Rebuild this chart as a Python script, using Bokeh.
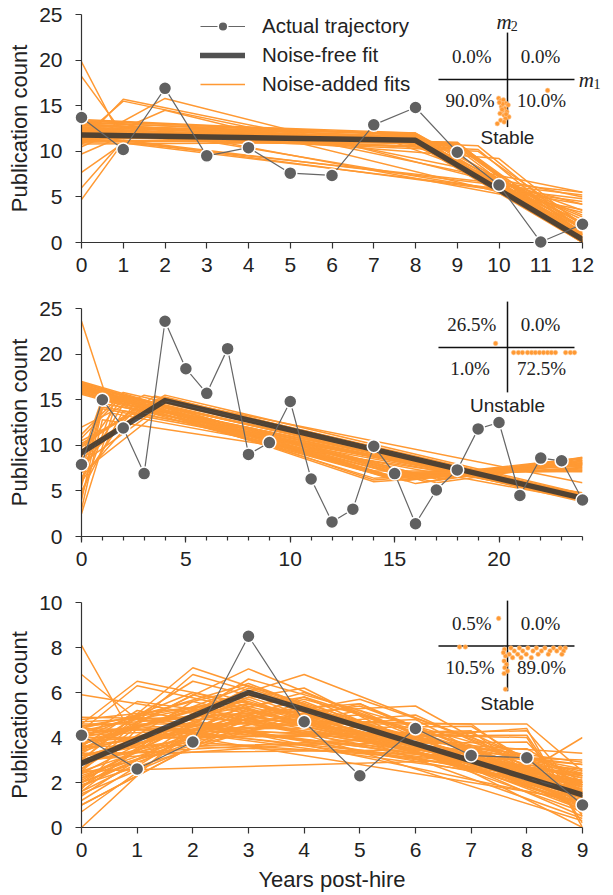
from bokeh.plotting import figure
from bokeh.models import Range1d, FixedTicker, Legend, LegendItem
from bokeh.layouts import column
from bokeh.core.properties import value
from bokeh.embed import file_html
from bokeh.resources import INLINE

SANS = "Liberation Sans"
SERIF = "Liberation Serif"
ORANGE = "#ff9933"
GRAY = "#666666"
DARK = "#333333"

# ---------------- data ----------------
# Panel 1
P1_YEARS = list(range(13))
P1_ACTUAL = [13.7, 10.2, 16.9, 9.5, 10.4, 7.6, 7.35, 12.9, 14.8, 9.9, 6.3, 0.05, 2.0]
P1_FIT_X = [0, 8, 12]
P1_FIT_Y = [11.8, 11.2, 0.35]
P1_NOISY_X = [
    [0, 8, 12], [0, 8, 12], [0, 8, 12], [0, 8, 12], [0, 8, 12], [0, 8, 12],
    [0, 9, 12], [0, 8, 12], [0, 8, 12], [0, 8, 12], [0, 9, 12], [0, 8.5, 12],
    [0, 9, 12], [0, 8, 12], [0, 7.5, 12], [0, 8, 12], [0, 9, 12], [0, 8, 12],
    [0, 8, 12], [0, 9.5, 12], [0, 10, 12], [0, 9, 12],
    [0, 8, 12], [0, 8, 12], [0, 8, 12], [0, 8, 12], [0, 8, 12], [0, 8, 12],
    [0, 8, 12], [0, 8, 12], [0, 8, 12], [0, 8, 12],
    [0, 9, 12], [0, 9, 12], [0, 9, 12], [0, 9.5, 12], [0, 9.5, 12], [0, 7, 12],
    [0, 0.8, 12], [0, 0.8, 12], [0, 1, 12], [0, 1, 12], [0, 1, 12], [0, 0.8, 12],
    [0, 1, 12], [0, 1, 12], [0, 2, 12], [0, 2, 12],
]
P1_NOISY_Y = [
    [13.5, 11.8, 0.3], [13.2, 11.5, 0.8], [12.8, 11.9, 0.0], [12.5, 11.2, 1.2], [12.2, 11.6, 0.5], [12.0, 11.0, 1.8],
    [11.8, 10.3, 0.0], [11.5, 11.4, 2.2], [11.2, 10.9, 0.9], [11.0, 11.3, 0.2], [12.9, 10.5, 0.6], [13.0, 11.0, 1.5],
    [12.3, 10.8, 0.0], [11.7, 11.8, 0.0], [12.6, 11.5, 2.8], [11.3, 10.6, 3.0], [12.1, 10.9, 1.0], [13.3, 12.0, 2.0],
    [10.8, 11.0, 0.4], [12.4, 10.6, 1.3], [12.7, 9.2, 1.8], [11.9, 11.0, 0.2],
    [13.4, 11.7, 1.0], [12.4, 11.3, 0.0], [11.6, 11.1, 1.5], [12.9, 11.4, 0.7], [11.4, 11.6, 0.9], [13.1, 11.9, 0.1],
    [12.0, 11.3, 2.5], [11.9, 10.8, 0.0], [12.6, 12.0, 1.2], [11.1, 11.2, 1.8],
    [12.5, 10.6, 0.5], [11.6, 10.4, 1.6], [13.0, 10.9, 0.2], [12.2, 10.2, 0.8], [11.8, 10.0, 2.0], [12.8, 11.8, 3.5],
    [19.8, 12.8, 4.2], [18.2, 13.2, 3.6], [4.7, 11.0, 5.5], [6.0, 11.2, 5.2], [7.7, 10.9, 4.8], [9.7, 11.3, 4.5],
    [11.0, 15.7, 5.5], [11.5, 15.5, 5.0], [10.8, 15.8, 4.2], [10.5, 14.5, 3.3],
]
P1_PCT = ["0.0%", "0.0%", "90.0%", "10.0%"]   # top-left, top-right, bottom-left, bottom-right
P1_CLASS = "Stable"
P1_M1 = [-0.26, -0.2, -0.12, -0.05, 0.02, -0.18, -0.08, -0.15, -0.02, -0.22, -0.1, 0.04, -0.14, -0.06, -0.2, -0.1, -0.3,
         -0.16, -0.04, -0.24, 1.18]
P1_M2 = [-0.55, -0.62, -0.6, -0.7, -0.75, -0.8, -0.85, -0.92, -0.95, -1.0, -1.05, -1.1, -0.72, -1.15, -1.2, -1.25, -1.3,
         -0.88, -1.02, -0.68, -0.32]

# Panel 2
P2_YEARS = list(range(25))
P2_ACTUAL = [7.9, 15.0, 11.9, 6.9, 23.6, 18.4, 15.7, 20.6, 9.0, 10.3, 14.8, 6.3, 1.6, 3.0,
             9.9, 6.9, 1.4, 5.1, 7.3, 11.8, 12.5, 4.5, 8.6, 8.3, 4.0]
P2_FIT_X = [0, 4, 24]
P2_FIT_Y = [9.2, 14.9, 4.2]
P2_NOISY_X = [
    [0, 4, 24], [0, 4, 24], [0, 4, 24], [0, 3, 24], [0, 2, 24], [0, 1, 24], [0, 1.5, 24],
    [0, 2, 24], [0, 2, 24], [0, 4, 24], [0, 3, 24], [0, 1, 24], [0, 1, 24], [0, 1.2, 24],
    [0, 3, 24], [0, 2.5, 24], [0, 3.5, 24],
    [0, 4, 24], [0, 3, 24], [0, 2, 24], [0, 1, 24], [0, 1, 24], [0, 2, 24], [0, 1.5, 24],
    [0, 4, 24], [0, 3.5, 24], [0, 1, 24],
    [0, 16, 24], [0, 15, 24], [0, 14, 24], [0, 16.5, 24], [0, 14.5, 24], [0, 17, 24],
    [0, 15.5, 24], [0, 16, 24], [0, 13.5, 24], [0, 15, 24], [0, 14, 24], [0, 16, 24],
    [0, 15.5, 24], [0, 14.5, 24],
    [0, 15, 24], [0, 16, 24], [0, 14.5, 24], [0, 15.5, 24], [0, 16.5, 24], [0, 15, 24],
    [0, 14, 24], [0, 17, 24],
]
P2_NOISY_Y = [
    [9.2, 15.0, 4.2], [8.0, 14.6, 4.5], [10.5, 15.3, 3.9], [6.5, 14.2, 4.6], [5.0, 13.8, 4.4], [3.0, 12.8, 4.8], [2.5, 13.5, 4.0],
    [11.2, 15.8, 4.2], [10.8, 15.5, 3.8], [7.0, 14.2, 4.7], [9.8, 14.8, 4.1], [4.0, 14.0, 4.3], [8.6, 15.2, 4.5], [23.6, 15.2, 4.3],
    [12.0, 15.5, 5.9], [6.0, 14.5, 4.0], [10.0, 15.4, 4.6],
    [9.5, 15.2, 4.4], [8.0, 14.8, 4.0], [7.0, 14.5, 4.3], [5.5, 14.2, 4.6], [7.0, 15.0, 4.1], [9.0, 15.3, 4.5], [4.5, 14.4, 4.2],
    [10.2, 15.5, 4.7], [8.5, 15.0, 3.9], [6.0, 14.6, 4.4],
    [16.8, 6.6, 8.6], [16.5, 6.2, 8.0], [16.2, 6.4, 7.5], [17.0, 6.0, 8.7], [15.8, 6.8, 7.2], [16.6, 6.3, 8.3],
    [16.0, 7.0, 7.8], [16.9, 5.8, 8.4], [15.6, 7.2, 7.1], [16.3, 6.5, 8.2], [16.7, 6.0, 7.6], [16.1, 6.9, 8.0],
    [16.4, 6.1, 8.5], [15.9, 6.6, 7.4],
    [16.6, 6.4, 8.1], [16.2, 6.3, 7.9], [16.5, 6.7, 7.7], [16.8, 6.2, 8.6], [16.0, 6.5, 8.3], [15.7, 6.9, 7.3],
    [16.9, 6.2, 7.9], [16.3, 5.9, 8.1],
]
P2_PCT = ["26.5%", "0.0%", "1.0%", "72.5%"]
P2_CLASS = "Unstable"
P2_M1 = [-0.35, 0.18, 0.32, 0.44, 0.59, 0.71, 0.82, 0.94, 1.06, 1.18, 1.29, 1.41, 1.71, 1.85, 1.97]
P2_M2 = [0.12, -0.15, -0.15, -0.15, -0.15, -0.15, -0.15, -0.15, -0.15, -0.15, -0.15, -0.15, -0.15, -0.15, -0.15]

# Panel 3
P3_YEARS = list(range(10))
P3_ACTUAL = [4.1, 2.6, 3.8, 8.5, 4.7, 2.3, 4.4, 3.2, 3.1, 1.0]
P3_FIT_X = [0, 3, 9]
P3_FIT_Y = [2.85, 6.0, 1.45]
P3_NOISY_X = [
    [0, 3, 9], [0, 3, 9], [0, 3, 9], [0, 3, 9], [0, 3, 9], [0, 3, 9], [0, 2.5, 9], [0, 2, 9],
    [0, 2, 9], [0, 3, 9], [0, 2, 9], [0, 4, 9], [0, 4, 9], [0, 4, 9], [0, 3, 9], [0, 2, 9],
    [0, 8, 9], [0, 8, 9], [0, 8, 9], [0, 8, 9], [0, 7, 9], [0, 7, 9],
    [0, 1, 9], [0, 1, 9], [0, 1, 9], [0, 2, 9], [0, 2, 9], [0, 2, 9], [0, 3, 9], [0, 3, 9],
    [0, 0.8, 9], [0, 1, 9], [0, 1.5, 9], [0, 8.4, 9], [0, 5, 9], [0, 5, 9], [0, 6, 9], [0, 4, 9],
    [0, 2, 9], [0, 2, 9], [0, 3, 9], [0, 3, 9], [0, 4, 9], [0, 2.5, 9], [0, 3.5, 9], [0, 8, 9],
    [0, 5, 9], [0, 1.5, 9],
    [0, 3, 9], [0, 3, 9], [0, 3, 9], [0, 3, 9], [0, 3, 9], [0, 3, 9],
    [0, 2, 9], [0, 2, 9], [0, 2, 9], [0, 2, 9], [0, 2, 9],
    [0, 4, 9], [0, 4, 9], [0, 4, 9], [0, 4, 9], [0, 4, 9],
    [0, 5, 9], [0, 5, 9], [0, 5, 9],
    [0, 1, 9], [0, 1, 9], [0, 1, 9], [0, 1, 9],
    [0, 6, 9], [0, 6, 9], [0, 7, 9], [0, 7, 9], [0, 8, 9], [0, 8, 9], [0, 2.5, 9],
]
P3_NOISY_Y = [
    [2.8, 6.0, 1.4], [2.2, 5.8, 1.0], [3.5, 6.3, 1.6], [1.8, 5.5, 1.8], [3.0, 5.2, 2.2], [4.2, 6.4, 0.8], [1.2, 5.0, 1.5], [0.0, 4.6, 1.9],
    [0.7, 4.2, 2.4], [4.8, 5.6, 1.2], [3.8, 5.2, 2.0], [2.5, 5.8, 0.5], [4.5, 6.2, 0.0], [3.2, 5.4, 1.0], [1.5, 4.6, 2.8], [4.0, 6.0, 1.7],
    [4.0, 4.1, 0.5], [3.6, 3.8, 1.2], [4.4, 4.0, 0.2], [3.3, 3.5, 2.0], [4.9, 4.6, 1.0], [3.9, 4.3, 0.6],
    [4.6, 6.5, 2.5], [4.3, 6.3, 2.0], [3.9, 5.6, 2.9], [3.0, 7.1, 1.3], [2.6, 6.8, 1.8], [3.4, 6.5, 2.2], [3.5, 7.05, 1.0], [2.0, 6.6, 2.4],
    [8.1, 4.6, 2.8], [6.8, 4.8, 2.4], [5.9, 5.3, 1.9], [2.5, 3.1, 4.0], [3.5, 5.7, 2.3], [2.4, 5.5, 1.0], [4.7, 5.4, 1.3], [3.7, 6.8, 2.0],
    [1.0, 3.6, 3.0], [2.0, 3.8, 2.6], [3.2, 4.3, 3.3], [1.0, 4.9, 0.3], [2.9, 5.1, 0.7], [4.4, 5.9, 1.1], [2.3, 5.3, 1.6], [3.0, 4.4, 0.0],
    [4.2, 5.0, 1.8], [1.6, 4.4, 2.1],
    [2.0, 5.0, 2.0], [3.7, 5.9, 1.9], [2.4, 6.2, 1.2], [1.6, 5.3, 1.3], [4.0, 5.5, 2.6], [3.1, 5.7, 0.4],
    [2.6, 5.6, 1.7], [3.3, 5.9, 1.4], [1.8, 5.0, 2.3], [4.3, 5.3, 2.1], [2.1, 4.7, 1.1],
    [3.4, 6.0, 1.5], [2.2, 5.6, 0.9], [4.1, 5.8, 1.9], [1.9, 5.1, 1.6], [3.0, 5.7, 2.3],
    [3.6, 5.4, 1.7], [2.9, 5.2, 0.8], [4.5, 5.5, 1.4],
    [3.0, 4.9, 2.3], [2.5, 4.5, 1.9], [1.7, 4.4, 1.2], [3.6, 5.2, 1.6],
    [3.8, 5.0, 1.6], [4.1, 4.8, 0.9], [4.3, 4.5, 1.5], [3.2, 4.2, 1.9], [3.9, 4.3, 1.4], [4.6, 4.6, 2.5], [1.4, 5.4, 2.0],
]
P3_PCT = ["0.5%", "0.0%", "10.5%", "89.0%"]
P3_CLASS = "Stable"
P3_M1 = [-0.26, -1.41, -1.24,
         0.1, 0.35, 0.6, 0.85, 1.1, 1.35, 1.55, 1.7,
         0.2, 0.45, 0.75, 1.0, 1.25, 1.45, 1.65,
         0.05, 0.3, 0.55, 0.9, 1.2, 1.6,
         0.15, 0.4, 0.7,
         -0.09, -0.06, -0.1, -0.03, -0.08, -0.1, 0.0, -0.12, -0.06]
P3_M2 = [0.82, -0.03, -0.03,
         -0.06, -0.06, -0.06, -0.06, -0.06, -0.06, -0.06, -0.06,
         -0.15, -0.15, -0.15, -0.15, -0.15, -0.15, -0.15,
         -0.25, -0.25, -0.25, -0.25, -0.25, -0.25,
         -0.35, -0.35, -0.35,
         -0.1, -0.3, -0.45, -0.55, -0.65, -0.82, -0.75, -0.2, -1.29]

LEGEND_LABELS = ["Actual trajectory", "Noise-free fit", "Noise-added fits"]
Y_LABEL = "Publication count"
X_LABEL = "Years post-hire"

# ---------------- layout constants ----------------
FIG_W = 607
B_LEFT, B_RIGHT, B_TOP = 81, 25, 14
FRAME_W = FIG_W - B_LEFT - B_RIGHT
FRAME_H = 228
UNIT = 34.0  # inset pixels per unit


def make_panel(years, actual, fit_x, fit_y, nx, ny, pct, cls, m1, m2,
               xmax, ymax, xticks, xminor, yticks, inset_cy, vhalf, fig_h,
               legend=False, mlabels=False, xlabel=None):
    p = figure(width=FIG_W, height=fig_h, output_backend="svg", toolbar_location=None,
               x_range=Range1d(0, xmax), y_range=Range1d(0, ymax),
               min_border_left=B_LEFT, min_border_right=B_RIGHT,
               min_border_top=B_TOP, min_border_bottom=fig_h - B_TOP - FRAME_H)
    p.outline_line_color = None
    p.grid.visible = False
    p.background_fill_color = "white"
    p.border_fill_color = "white"

    cx = 426.0
    p.extra_x_ranges = {"m1": Range1d(-cx / UNIT, (FRAME_W - cx) / UNIT)}
    p.extra_y_ranges = {"m2": Range1d(-(FRAME_H - inset_cy) / UNIT, inset_cy / UNIT)}

    r_noisy = p.multi_line(nx, ny, line_color=ORANGE, line_width=1.5, line_alpha=1.0)
    r_fit = p.line(fit_x, fit_y, line_color=DARK, line_alpha=0.85, line_width=5.5, line_cap="round",
                   line_join="round")
    r_act_l = p.line(years, actual, line_color=GRAY, line_width=1.2, level="overlay")
    r_act_s = p.scatter(years, actual, size=13, fill_color="#606060", line_color="white",
                        line_width=1.5, level="overlay")

    # inset
    kw = dict(x_range_name="m1", y_range_name="m2", level="overlay")
    p.segment(x0=[-2.03, 0], y0=[0, vhalf[0]], x1=[1.97, 0], y1=[0, vhalf[1]],
              line_color="#111111", line_width=1.5, **kw)
    p.scatter(m1, m2, size=4.6, fill_color=ORANGE, line_color="#ffc890", line_width=0.6, **kw)
    p.text(x=[-1.05, 0.97, -1.1, 1.0], y=[0.68, 0.68, -0.63, -0.63], text=pct,
           text_font=value(SERIF), text_font_size="19px", text_color="#222222",
           text_align="center", text_baseline="middle", **kw)
    p.text(x=[0], y=[-1.72], text=[cls], text_font=value(SANS), text_font_size="19px",
           text_color="#222222", text_align="center", text_baseline="middle", **kw)
    if mlabels:
        p.text(x=[-0.1, 2.32], y=[1.68, 0.0], text=["m", "m"], text_font=value(SERIF),
               text_font_style="italic", text_font_size="21px", text_color="#222222",
               text_align="center", text_baseline="middle", **kw)
        p.text(x=[0.2, 2.63], y=[1.58, -0.12], text=["2", "1"], text_font=value(SERIF),
               text_font_size="14px", text_color="#222222",
               text_align="center", text_baseline="middle", **kw)

    # axes
    for ax in (p.xaxis[0], p.yaxis[0]):
        ax.axis_line_color = "#333333"
        ax.axis_line_width = 1.2
        ax.major_tick_line_color = "#333333"
        ax.major_tick_line_width = 1.2
        ax.major_tick_in = 0
        ax.major_tick_out = 6
        ax.minor_tick_in = 0
        ax.minor_tick_out = 4
        ax.minor_tick_line_color = None
        ax.major_label_text_font = SANS
        ax.major_label_text_font_size = "21px"
        ax.major_label_text_color = "#222222"
        ax.axis_label_text_font = SANS
        ax.axis_label_text_font_size = "22px"
        ax.axis_label_text_font_style = "normal"
        ax.axis_label_text_color = "#222222"
    p.xaxis.ticker = FixedTicker(ticks=xticks, minor_ticks=xminor)
    if xminor:
        p.xaxis.minor_tick_line_color = "#333333"
        p.xaxis.minor_tick_line_width = 1.2
    p.yaxis.ticker = FixedTicker(ticks=yticks)
    p.yaxis.axis_label = Y_LABEL
    p.yaxis.major_label_standoff = 13
    p.yaxis.axis_label_standoff = 4
    p.xaxis.major_label_standoff = 9
    if xlabel:
        p.xaxis.axis_label = xlabel
        p.xaxis.axis_label_standoff = 7

    if legend:
        lg = Legend(items=[LegendItem(label=LEGEND_LABELS[0], renderers=[r_act_l, r_act_s]),
                           LegendItem(label=LEGEND_LABELS[1], renderers=[r_fit]),
                           LegendItem(label=LEGEND_LABELS[2], renderers=[r_noisy])],
                    location=(119, 146), padding=0, margin=0, spacing=5,
                    glyph_width=45, glyph_height=24, label_height=24, label_standoff=17,
                    label_text_font=SANS, label_text_font_size="20.5px", label_text_color="#222222",
                    background_fill_alpha=0, border_line_color=None)
        p.add_layout(lg, "center")
    return p


p1 = make_panel(P1_YEARS, P1_ACTUAL, P1_FIT_X, P1_FIT_Y, P1_NOISY_X, P1_NOISY_Y, P1_PCT, P1_CLASS,
                P1_M1, P1_M2, 12, 25, list(range(13)), [], [0, 5, 10, 15, 20, 25], 65, (-1.4, 1.38), 294,
                legend=True, mlabels=True)
p2 = make_panel(P2_YEARS, P2_ACTUAL, P2_FIT_X, P2_FIT_Y, P2_NOISY_X, P2_NOISY_Y, P2_PCT, P2_CLASS,
                P2_M1, P2_M2, 24, 25, [0, 5, 10, 15, 20], list(range(25)), [0, 5, 10, 15, 20, 25], 39,
                (-1.32, 1.35), 294)
p3 = make_panel(P3_YEARS, P3_ACTUAL, P3_FIT_X, P3_FIT_Y, P3_NOISY_X, P3_NOISY_Y, P3_PCT, P3_CLASS,
                P3_M1, P3_M2, 9, 10, list(range(10)), [], [0, 2, 4, 6, 8, 10], 44, (-1.35, 1.35), 306,
                xlabel=X_LABEL)

layout = column(p1, p2, p3, spacing=0)
open("out.html", "w").write(file_html(layout, INLINE))
